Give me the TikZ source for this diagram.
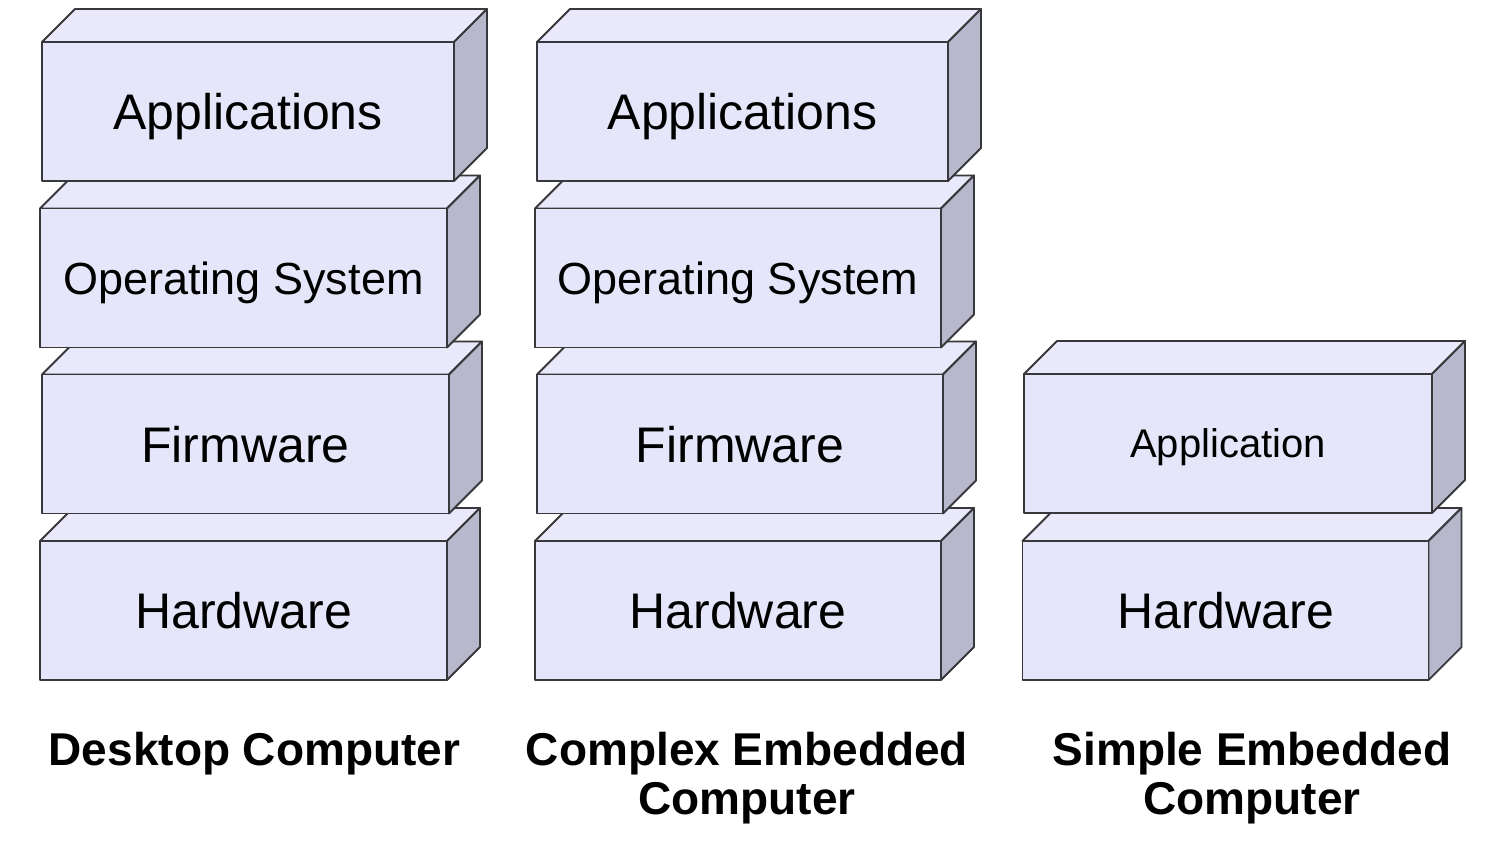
\documentclass[tikz,border=0pt]{standalone}
\usepackage{fontspec}
\setmainfont{Liberation Sans}
\usepackage{tikz}
\definecolor{layerfront}{RGB}{230,230,250}
\definecolor{layertop}{RGB}{233,233,251}
\definecolor{layerside}{RGB}{184,184,204}
\definecolor{layerline}{RGB}{55,55,60}
\tikzset{layer/.style = {shape=rectangle, draw=layerline, fill=layerfront, line width=1.8pt, line join=round,
  minimum width=407pt, minimum height=139pt, inner sep=0pt, outer sep=0pt,
  font=\fontsize{50}{60}\selectfont, text height=36pt, text depth=0pt,
  append after command={\pgfextra{\let\lastlayer\tikzlastnode
    \filldraw[draw=layerline, fill=layertop, line width=1.8pt, line join=round]
      (\lastlayer.north west) -- ++(33pt,33pt) -- ([shift={(33pt,33pt)}]\lastlayer.north east)
      -- (\lastlayer.north east) -- cycle;
    \filldraw[draw=layerline, fill=layerside, line width=1.8pt, line join=round]
      (\lastlayer.north east) -- ++(33pt,33pt) -- ([shift={(33pt,33pt)}]\lastlayer.south east)
      -- (\lastlayer.south east) -- cycle;}}}}
\tikzset{oslayer/.style = {layer, font=\fontsize{45}{54}\selectfont, text height=32.4pt}}
\tikzset{caption/.style = {align=center, anchor=base, font=\bfseries\fontsize{46}{49}\selectfont}}

\begin{document}
\begin{tikzpicture}[x=1pt,y=-1pt]
\useasboundingbox (0,0) rectangle (1497,846);
% desktop stack
\node[layer] (dhw) at (243.5,610.5) {Hardware};
\node[layer] (dfw) at (245.5,444) {Firmware};
\node[oslayer] (dos) at (243.5,278) {Operating System};
\node[layer, minimum width=412pt] (dapp) at (248,111.5) {Applications};

% complex embedded stack
\node[layer, minimum width=406pt] (chw) at (738,610.5) {Hardware};
\node[layer, minimum width=406pt] (cfw) at (740,444) {Firmware};
\node[oslayer, minimum width=406pt] (cos) at (738,278) {Operating System};
\node[layer, minimum width=411pt] (capp) at (742.5,111.5) {Applications};

% simple embedded stack
\node[layer, minimum width=406pt] (shw) at (1225.5,610.5) {Hardware};
\node[layer, minimum width=408pt, font=\fontsize{40}{48}\selectfont, text height=28.8pt] (sapp) at (1228,443.5) {Application};

% captions
\node[caption] (dcap) at (254.5,765) {Desktop Computer};
\node[caption] (ccap) at (747,814) {Complex Embedded\\Computer};
\node[caption] (scap) at (1252,814) {Simple Embedded\\Computer};
\end{tikzpicture}
\end{document}
